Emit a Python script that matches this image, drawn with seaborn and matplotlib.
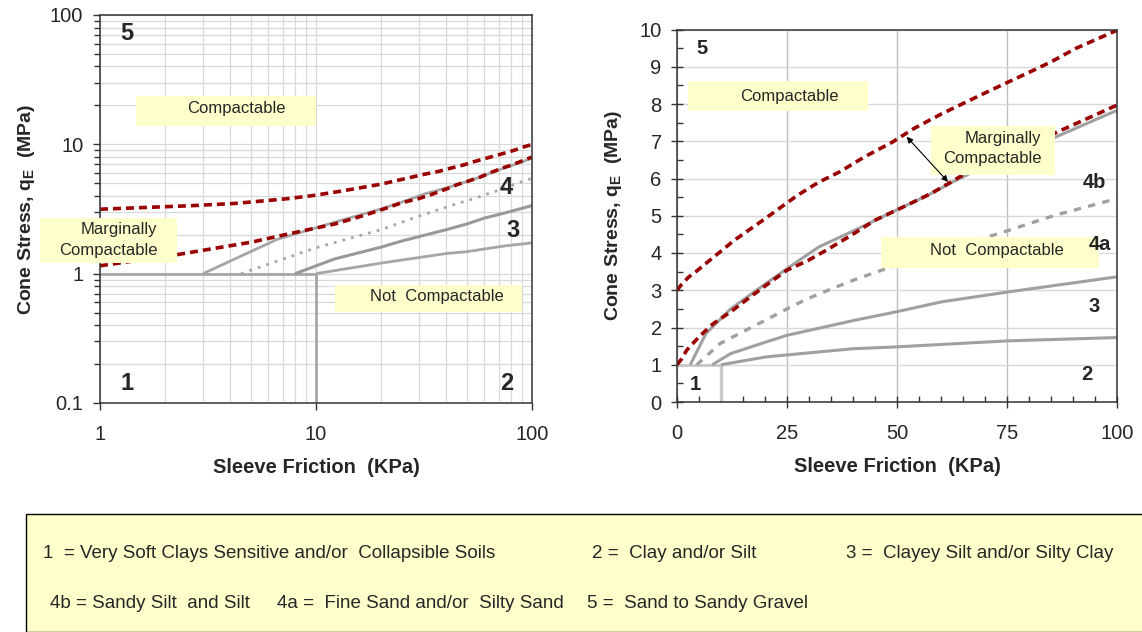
import numpy as np
import matplotlib
matplotlib.use("Agg")
import matplotlib.pyplot as plt
import seaborn as sns
from matplotlib.patches import Rectangle
from matplotlib.ticker import FuncFormatter, LogLocator, NullFormatter, MultipleLocator

# boundary curves (sleeve friction KPa -> cone stress MPa)
upper_red_x = [0, 1, 2.6, 4.2, 7.4, 9.8, 13, 20, 27.4, 32.2, 37, 42.6, 49, 53.8, 60.2, 70.6, 80.2, 85, 90.6, 100]
upper_red_y = [3.0, 3.15, 3.35, 3.49, 3.8, 4.03, 4.34, 4.92, 5.55, 5.9, 6.18, 6.58, 6.98, 7.34, 7.74, 8.33, 8.86, 9.13, 9.49, 9.98]

lower_red_x = [0, 1, 2.2, 5, 8.2, 12.2, 16.2, 20.2, 25, 29.8, 34.6, 40.2, 45, 50.6, 57.8, 64.2, 72, 80, 87.4, 100]
lower_red_y = [1.0, 1.15, 1.39, 1.75, 2.1, 2.42, 2.78, 3.13, 3.54, 3.8, 4.12, 4.52, 4.88, 5.19, 5.6, 6.04, 6.5, 6.9, 7.3, 7.97]

line_4b_x = [3, 6.6, 12.2, 20.2, 25, 32.2, 40.2, 49.8, 57, 64.2, 75, 85.8, 100]
line_4b_y = [1.0, 1.84, 2.5, 3.18, 3.58, 4.16, 4.6, 5.15, 5.55, 6.0, 6.6, 7.1, 7.83]

line_4a_x = [4.5, 9.8, 20, 25, 29.8, 36.2, 41, 46.6, 55, 62, 70.6, 75.4, 85.8, 100]
line_4a_y = [1.0, 1.57, 2.19, 2.5, 2.78, 3.09, 3.31, 3.54, 3.85, 4.13, 4.43, 4.61, 5.01, 5.46]

line_3_x = [8, 12.2, 20.2, 25, 40.2, 49.8, 60.2, 75, 100]
line_3_y = [1.0, 1.3, 1.61, 1.79, 2.19, 2.42, 2.69, 2.95, 3.36]

line_2_x = [10, 20.2, 40, 50, 75, 100]
line_2_y = [1.0, 1.21, 1.43, 1.48, 1.64, 1.73]

base_x = [0, 10]
base_y = [1, 1]
cut_x = [10, 10]
cut_y = [0, 1]

legend_row1 = ["1  = Very Soft Clays Sensitive and/or  Collapsible Soils", "2 =  Clay and/or Silt",
               "3 =  Clayey Silt and/or Silty Clay"]
legend_row2 = ["4b = Sandy Silt  and Silt", "4a =  Fine Sand and/or  Silty Sand", "5 =  Sand to Sandy Gravel"]

RED = "#990000"
YELLOW = "#FFFFCC"

sns.set_style("white")
plt.rcParams['font.family'] = ['Liberation Sans', 'DejaVu Sans']
plt.rcParams['mathtext.fontset'] = 'custom'
plt.rcParams['mathtext.rm'] = 'Liberation Sans'
plt.rcParams['mathtext.bf'] = 'Liberation Sans:bold'

W, H = 1142, 632
fig = plt.figure(figsize=(W / 100, H / 100), dpi=100)


def add_axes_px(x0, y0, x1, y1):
    ax = fig.add_axes([x0 / W, 1 - y1 / H, (x1 - x0) / W, (y1 - y0) / H])
    ax.px = (x0, y0, x1, y1)
    return ax


def draw(ax, x, y, color, lw, dashes=None):
    sns.lineplot(x=x, y=y, ax=ax, estimator=None, sort=False, color=color, lw=lw, zorder=2)
    line = ax.lines[-1]
    if dashes:
        line.set_dashes(dashes)
    line.set_solid_capstyle('butt')


def box(ax, x0, y0, x1, y1):
    bx0, by0, bx1, by1 = ax.px
    fx = lambda v: (v - bx0) / (bx1 - bx0)
    fy = lambda v: (by1 - v) / (by1 - by0)
    ax.add_patch(Rectangle((fx(x0), fy(y1)), fx(x1) - fx(x0), fy(y0) - fy(y1), transform=ax.transAxes,
                           facecolor=YELLOW, edgecolor='none', zorder=3, clip_on=False))


def label(ax, x, y, s, size=12, weight='normal'):
    bx0, by0, bx1, by1 = ax.px
    ax.text((x - bx0) / (bx1 - bx0), (by1 - y) / (by1 - by0), s, transform=ax.transAxes, ha='center', va='center',
            fontsize=size, fontweight=weight, zorder=4, clip_on=False)


def keep(x, y, lo):
    x = np.asarray(x, float)
    y = np.asarray(y, float)
    m = x >= lo
    return x[m], y[m]


# ---------------- left: log-log ----------------
ax1 = add_axes_px(100, 15, 532, 403)
ax1.set_xscale('log')
ax1.set_yscale('log')
ax1.set_xlim(1, 100)
ax1.set_ylim(0.1, 100)

draw(ax1, *keep(upper_red_x, upper_red_y, 1), RED, 2.6, (2.2, 1.4))
draw(ax1, np.maximum(base_x, 1), base_y, "#A6A6A6", 2.0)
draw(ax1, cut_x, np.maximum(cut_y, 0.1), "#A6A6A6", 2.0)
draw(ax1, line_4b_x, line_4b_y, "#A6A6A6", 2.0)
draw(ax1, line_4a_x, line_4a_y, "#A6A6A6", 2.0, (1.0, 2.2))
draw(ax1, line_3_x, line_3_y, "#999999", 2.2)
draw(ax1, line_2_x, line_2_y, "#A6A6A6", 2.0)
draw(ax1, *keep(lower_red_x, lower_red_y, 1), RED, 2.6, (2.2, 1.4))

fmt = FuncFormatter(lambda v, _: f"{v:g}")
ax1.xaxis.set_major_formatter(fmt)
ax1.yaxis.set_major_formatter(fmt)
ax1.xaxis.set_minor_locator(LogLocator(base=10, subs=np.arange(2, 10)))
ax1.yaxis.set_minor_locator(LogLocator(base=10, subs=np.arange(2, 10)))
ax1.xaxis.set_minor_formatter(NullFormatter())
ax1.yaxis.set_minor_formatter(NullFormatter())
ax1.grid(True, which='both', color='#D9D9D9', lw=0.9)
ax1.tick_params(axis='both', which='major', direction='out', length=5, width=1, labelsize=14.5, pad=7,
                color='#333333', left=True, bottom=True)
ax1.tick_params(axis='y', which='minor', direction='out', length=4, width=1, left=True, color='#333333')
ax1.tick_params(axis='x', which='minor', length=0)
ax1.tick_params(axis='x', which='major', pad=11)

box(ax1, 136, 96, 316, 126)
label(ax1, 236, 109, "Compactable")
box(ax1, 40, 218, 177, 263)
label(ax1, 119, 230, "Marginally")
label(ax1, 108, 251, "Compactable")
box(ax1, 335, 285, 522, 312)
label(ax1, 437, 297, "Not  Compactable")
for s, x, y in [("5", 127, 34), ("1", 127, 383), ("2", 507, 383), ("3", 513, 231), ("4", 506, 188)]:
    label(ax1, x, y, s, size=17, weight='bold')

# ---------------- right: linear ----------------
ax2 = add_axes_px(677, 29.5, 1117, 402)
ax2.set_xlim(0, 100)
ax2.set_ylim(0, 10)
ax2.xaxis.set_major_locator(MultipleLocator(25))
ax2.xaxis.set_minor_locator(MultipleLocator(5))
ax2.yaxis.set_major_locator(MultipleLocator(1))
ax2.yaxis.set_minor_locator(MultipleLocator(0.5))
ax2.grid(True, axis='x', which='major', color='#BFBFBF', lw=1.0)
ax2.grid(True, axis='y', which='major', color='#D9D9D9', lw=1.0)

draw(ax2, base_x, base_y, "#C8C8C8", 2.0)
draw(ax2, cut_x, cut_y, "#C8C8C8", 2.4)
draw(ax2, line_2_x, line_2_y, "#A0A0A0", 2.2)
draw(ax2, line_3_x, line_3_y, "#A0A0A0", 2.2)
draw(ax2, line_4a_x, line_4a_y, "#A0A0A0", 2.4, (2.2, 2.2))
draw(ax2, line_4b_x, line_4b_y, "#A0A0A0", 2.2)
draw(ax2, upper_red_x, upper_red_y, RED, 2.6, (2.2, 1.4))
draw(ax2, lower_red_x, lower_red_y, RED, 2.6, (2.2, 1.4))

ax2.tick_params(axis='both', which='major', direction='inout', length=8, width=1, labelsize=14.5,
                color='#333333', left=True, bottom=True)
ax2.tick_params(axis='x', which='major', pad=12)
ax2.tick_params(axis='y', which='major', pad=7)
ax2.tick_params(axis='both', which='minor', direction='in', length=4, width=1, left=True, bottom=True,
                color='#333333')

box(ax2, 688, 81, 868, 111)
label(ax2, 789, 96, "Compactable")
box(ax2, 931, 126, 1055, 175)
label(ax2, 1003, 138, "Marginally")
label(ax2, 992, 159, "Compactable")
box(ax2, 881, 237, 1099, 268)
label(ax2, 997, 250, "Not  Compactable")
for s, x, y in [("5", 702, 48), ("1", 695, 385), ("2", 1087, 375), ("3", 1094, 307), ("4a", 1100, 245),
                ("4b", 1094, 183)]:
    label(ax2, x, y, s, size=14.5, weight='bold')

ax2.annotate('', xy=(52.2, 7.12), xytext=(61.6, 5.91),
             arrowprops=dict(arrowstyle='<|-|>', color='black', lw=0.8, mutation_scale=9, shrinkA=0, shrinkB=0),
             zorder=5)

for ax, ypad in ((ax1, 9), (ax2, 11)):
    for sp in ax.spines.values():
        sp.set_color('#333333')
        sp.set_linewidth(1.1)
    ax.set_xlabel("Sleeve Friction  (KPa)", fontsize=14.5, fontweight='bold', labelpad=10)
    ax.set_ylabel(r"Cone Stress, q$_\mathbf{E}$  (MPa)", fontsize=14, fontweight='bold', labelpad=ypad)

# ---------------- key box ----------------
fig.add_artist(Rectangle((26 / W, 0), 1 - 26 / W + 0.01, 1 - 514 / H, transform=fig.transFigure,
                         facecolor=YELLOW, edgecolor='black', lw=1.0))
for s, x in zip(legend_row1, [43, 592, 846]):
    fig.text(x / W, 1 - 554 / H, s, fontsize=13.5, va='center', ha='left')
for s, x in zip(legend_row2, [50, 277, 587]):
    fig.text(x / W, 1 - 603 / H, s, fontsize=13.5, va='center', ha='left')

fig.savefig("out.png", dpi=100)
